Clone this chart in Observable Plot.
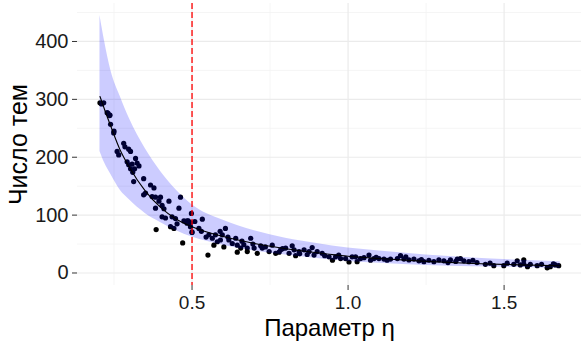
<!DOCTYPE html>
<html><head><meta charset="utf-8">
<script src="https://cdn.jsdelivr.net/npm/d3@7"></script>
<script src="https://cdn.jsdelivr.net/npm/@observablehq/plot@0.6"></script>
<style>body{margin:0;background:#fff;}</style>
</head><body><div id="chart"></div>
<script>
// Scatter: parameter η vs number of topics
const etaValues = [
  0.205,0.210,0.217,0.228,0.231,0.236,0.237,0.239,0.249,0.250,0.260,0.265,0.281,0.285,0.292,0.297,0.297,0.303,0.303,0.308,
  0.310,0.313,0.316,0.319,0.324,0.330,0.345,0.345,0.351,0.367,0.372,0.378,0.383,0.383,0.385,0.394,0.399,0.404,0.404,0.410,
  0.415,0.426,0.431,0.436,0.442,0.447,0.452,0.458,0.463,0.470,0.474,0.484,0.484,0.488,0.495,0.495,0.498,0.500,0.500,0.509,
  0.522,0.530,0.533,0.545,0.551,0.554,0.565,0.570,0.575,0.581,0.590,0.591,0.597,0.602,0.607,0.615,0.618,0.629,0.640,0.645,
  0.645,0.656,0.660,0.666,0.677,0.677,0.688,0.695,0.699,0.709,0.720,0.725,0.735,0.747,0.757,0.768,0.779,0.784,0.790,0.800,
  0.811,0.821,0.827,0.832,0.843,0.845,0.859,0.869,0.875,0.885,0.891,0.901,0.917,0.925,0.939,0.950,0.960,0.970,0.976,0.992,
  1.003,1.013,1.024,1.029,1.040,1.051,1.067,1.072,1.083,1.090,1.099,1.115,1.125,1.136,1.158,1.168,1.179,1.185,1.195,1.211,
  1.227,1.235,1.243,1.259,1.275,1.291,1.307,1.320,1.328,1.345,1.350,1.360,1.371,1.387,1.400,1.413,1.440,1.455,1.467,1.499,
  1.510,1.531,1.542,1.552,1.563,1.563,1.575,1.584,1.606,1.620,1.638,1.648,1.658,1.664,1.675
];
const topicCounts = [
  294,292,294,277,276,272,273,257,242,245,210,204,224,218,192,214,187,210,180,188,
  174,158,180,198,190,185,163,135,138,152,132,147,131,112,75,124,131,117,97,111,
  95,124,80,97,77,94,85,112,131,52,90,90,86,90,87,80,103,71,70,89,
  77,72,93,62,31,66,60,48,66,54,72,57,66,45,77,62,57,51,60,48,
  36,43,55,49,43,37,60,50,43,34,47,43,45,37,48,34,36,40,42,43,
  34,47,40,30,37,33,40,32,37,44,31,37,34,30,28,22,28,31,25,25,
  19,28,28,19.5,25,26.5,31,22,25,27,25,24,22,24,25,30,24,28,22.5,24,
  21,23,19.5,22,19.5,22.5,21,18,22.5,20,24,25,21,19.5,22,18,15,17,12.6,12.6,
  17,15,21,14,22.5,16,11,15,12.6,15,9,11,16,14,12.6
];
// Fitted curve and its band
const fitEta   = [0.205,0.22,0.24,0.27,0.30,0.35,0.40,0.45,0.50,0.60,0.70,0.80,0.90,1.00,1.10,1.25,1.40,1.55,1.68];
const fitValue = [305,282,253,212,182,142,113,93,80,63,51,42,35,29,25,20,16.5,14,12.5];
const fitUpper = [445,400,350,305,266,215,175,143,118,91,73,60,51,43,38,31,26,22,19.5];
const fitLower = [210,190,170,143,126,103,87,73,62,48,38,31,25,20,17,13,11,9.5,8];
// Axis ticks
const xMajorTicks = [0.5, 1.0, 1.5];
const xMinorTicks = [0.25, 0.75, 1.25];
const yMajorTicks = [0, 100, 200, 300, 400];
const yMinorTicks = [50, 150, 250, 350, 450];
const thresholdEta = [0.5];
const xTitle = "Параметр η";
const yTitle = "Число тем";

const points = etaValues.map((eta, i) => ({eta, count: topicCounts[i]}));
const fit = fitEta.map((eta, i) => ({eta, value: fitValue[i], lo: fitLower[i], hi: fitUpper[i]}));

const chart = Plot.plot({
  width: 583, height: 343,
  marginLeft: 77, marginRight: 2, marginTop: 3, marginBottom: 58,
  style: {fontFamily: "'Liberation Sans', Arial, sans-serif", background: "#fff"},
  x: {domain: [0.133, 1.748]},
  y: {domain: [-21.6, 465.6]},
  marks: [
    Plot.ruleX(xMinorTicks, {stroke: "#f3f3f3", strokeWidth: 0.8}),
    Plot.ruleY(yMinorTicks, {stroke: "#f3f3f3", strokeWidth: 0.8}),
    Plot.ruleX(xMajorTicks, {stroke: "#ebebeb", strokeWidth: 1.2}),
    Plot.ruleY(yMajorTicks, {stroke: "#ebebeb", strokeWidth: 1.2}),
    Plot.dot(points, {x: "eta", y: "count", r: 2.6, fill: "black", stroke: "none"}),
    Plot.areaY(fit, {x: "eta", y1: "lo", y2: "hi", fill: "blue", fillOpacity: 0.2, curve: "monotone-x"}),
    Plot.line(fit, {x: "eta", y: "value", stroke: "black", strokeWidth: 1.1, curve: "monotone-x"}),
    Plot.ruleX(thresholdEta, {stroke: "red", strokeWidth: 1.3, strokeDasharray: "6,3"}),
    Plot.axisX({ticks: xMajorTicks, tickFormat: d => d.toFixed(1), tickSize: 5, tickPadding: 5, fontSize: 19, label: null, stroke: "#333", fill: "#1a1a1a"}),
    Plot.axisY({ticks: yMajorTicks, tickSize: 5, tickPadding: 4, fontSize: 20, label: null, stroke: "#333", fill: "#1a1a1a"}),
    Plot.text([xTitle], {frameAnchor: "bottom", textAnchor: "middle", lineAnchor: "middle", dy: 43, fontSize: 24, fill: "#000"}),
    Plot.text([yTitle], {frameAnchor: "left", textAnchor: "middle", lineAnchor: "middle", dx: -59, rotate: -90, fontSize: 25, fill: "#000"})
  ]
});
document.getElementById("chart").appendChild(chart);
</script>
</body></html>
